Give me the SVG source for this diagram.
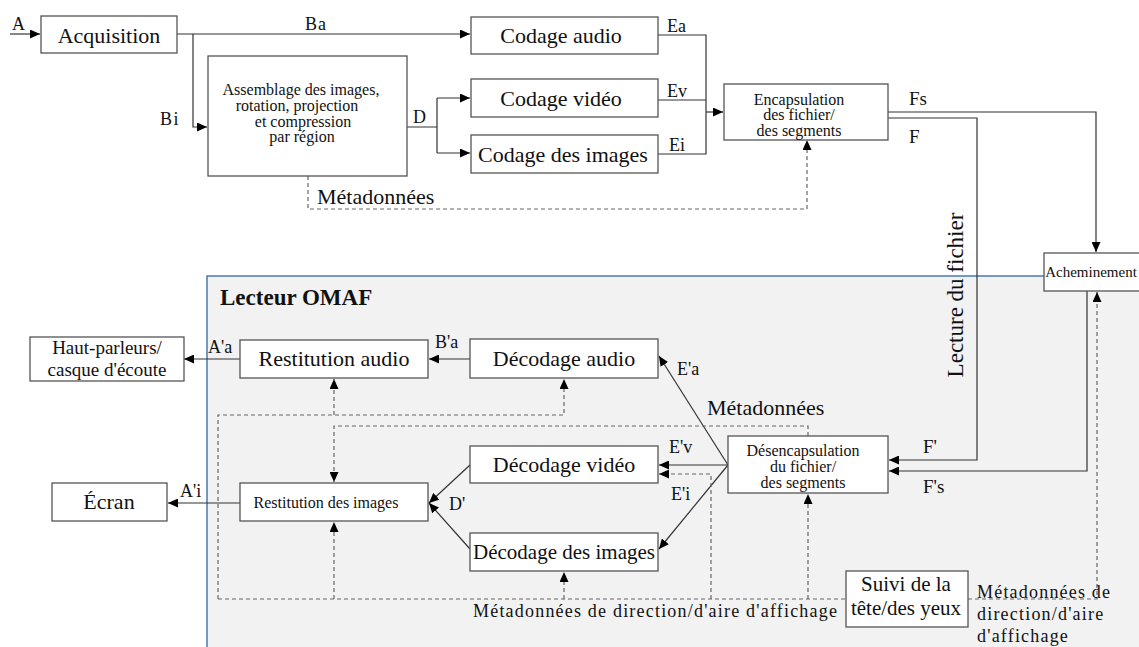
<svg xmlns="http://www.w3.org/2000/svg" width="1139" height="647" viewBox="0 0 1139 647">
<defs>
<marker id="ah" markerUnits="userSpaceOnUse" markerWidth="11" markerHeight="9" refX="10" refY="4.5" orient="auto">
<path d="M0,0 L10,4.5 L0,9 z" fill="#000"/>
</marker>
<style>
.box{fill:#fff;stroke:#555;stroke-width:1.3}
.ln{fill:none;stroke:#333;stroke-width:1.2}
.ds{fill:none;stroke:#666;stroke-width:1.2;stroke-dasharray:4 3}
text{font-family:"Liberation Serif","Times New Roman",serif;fill:#111}
.big{font-size:22px;text-anchor:middle}
.sm{font-size:16px;text-anchor:middle}
.lb{font-size:18px}
.meta{font-size:18px;letter-spacing:1.2px}
</style>
</defs>
<rect width="1139" height="647" fill="#fff"/>
<g id="lecteur">
<rect x="207" y="276" width="940" height="380" fill="#f2f2f2" stroke="#4a7ab0" stroke-width="1.5"/>
<text x="220" y="305" style="font-size:23px;font-weight:bold">Lecteur OMAF</text>
</g>
<g id="connectors">
<path class="ln" d="M10,34 H40" marker-end="url(#ah)"/>
<path class="ln" d="M177,34 H470" marker-end="url(#ah)"/>
<path class="ln" d="M193,34 V127 H207" marker-end="url(#ah)"/>
<path class="ln" d="M407,127 H437 M437,98 V153"/>
<path class="ln" d="M437,98 H470" marker-end="url(#ah)"/>
<path class="ln" d="M437,153 H470" marker-end="url(#ah)"/>
<path class="ln" d="M658,35 H706 V154 H658 M658,100 H706"/>
<path class="ln" d="M706,112 H723" marker-end="url(#ah)"/>
<path class="ln" d="M888,112 H1096 V252" marker-end="url(#ah)"/>
<path class="ln" d="M888,118 H977 V460 H889" marker-end="url(#ah)"/>
<path class="ln" d="M1087,291 V471 H889" marker-end="url(#ah)"/>
<path class="ln" d="M470,359 H429" marker-end="url(#ah)"/>
<path class="ln" d="M240,359 H184" marker-end="url(#ah)"/>
<path class="ln" d="M240,503 H168" marker-end="url(#ah)"/>
<path class="ln" d="M728,465 L659,356" marker-end="url(#ah)"/>
<path class="ln" d="M728,465 H659" marker-end="url(#ah)"/>
<path class="ln" d="M728,465 L659,549" marker-end="url(#ah)"/>
<path class="ln" d="M470,465 L429,503" marker-end="url(#ah)"/>
<path class="ln" d="M470,549 L429,503" marker-end="url(#ah)"/>
<path class="ds" d="M308,176 V209 H807 V140" marker-end="url(#ah)"/>
<path class="ds" d="M218,599 V415 H564 V379" marker-end="url(#ah)"/>
<path class="ds" d="M334,415 V379" marker-end="url(#ah)"/>
<path class="ds" d="M808,436 V426 H334 V482" marker-end="url(#ah)"/>
<path class="ds" d="M218,599 H846"/>
<path class="ds" d="M334,599 V522" marker-end="url(#ah)"/>
<path class="ds" d="M564,599 V572" marker-end="url(#ah)"/>
<path class="ds" d="M711,599 V474 H659" marker-end="url(#ah)"/>
<path class="ds" d="M808,599 V494" marker-end="url(#ah)"/>
<path class="ds" d="M968,599 H1097 V292" marker-end="url(#ah)"/>
</g>
<g id="labels">
<text class="lb" x="12" y="30">A</text>
<text class="lb" x="305" y="30" style="letter-spacing:1px">Ba</text>
<text class="lb" x="160" y="125" style="letter-spacing:1.5px">Bi</text>
<text class="lb" x="413" y="123">D</text>
<text class="lb" x="667" y="32">Ea</text>
<text class="lb" x="667" y="97">Ev</text>
<text class="lb" x="669" y="151">Ei</text>
<text class="lb" x="909" y="105" style="font-size:19px">Fs</text>
<text class="lb" x="909" y="143" style="font-size:19px">F</text>
<text class="lb" x="208" y="353">A'a</text>
<text class="lb" x="435" y="348">B'a</text>
<text class="lb" x="677" y="375">E'a</text>
<text class="lb" x="669" y="453">E'v</text>
<text class="lb" x="671" y="500">E'i</text>
<text class="lb" x="449" y="510">D'</text>
<text class="lb" x="180" y="497">A'i</text>
<text class="lb" x="923" y="453" style="font-size:19px">F'</text>
<text class="lb" x="923" y="493" style="font-size:19px">F's</text>
<text x="317" y="204" style="font-size:22px">Métadonnées</text>
<text x="707" y="415" style="font-size:22px">Métadonnées</text>
<text class="meta" x="473" y="617">Métadonnées de direction/d'aire d'affichage</text>
<text class="meta" x="977" y="598">Métadonnées de</text>
<text class="meta" x="977" y="620">direction/d'aire</text>
<text class="meta" x="977" y="642">d'affichage</text>
<text transform="translate(963,295) rotate(-90)" style="font-size:23px;text-anchor:middle">Lecture du fichier</text>
</g>
<g id="acquisition"><rect class="box" x="41" y="16" width="136" height="37"/><text class="big" x="109" y="43">Acquisition</text></g>
<g id="assemblage"><rect class="box" x="208" y="56" width="199" height="120"/>
<text class="sm" x="301" y="95">Assemblage des images,</text>
<text class="sm" x="297" y="111">rotation, projection</text>
<text class="sm" x="303" y="127">et compression</text>
<text class="sm" x="302" y="142">par région</text></g>
<g id="codage-audio"><rect class="box" x="471" y="17" width="187" height="37"/><text class="big" x="561" y="43">Codage audio</text></g>
<g id="codage-video"><rect class="box" x="471" y="79" width="187" height="38"/><text class="big" x="561" y="106">Codage vidéo</text></g>
<g id="codage-images"><rect class="box" x="471" y="135" width="187" height="38"/><text class="big" x="563" y="162">Codage des images</text></g>
<g id="encapsulation"><rect class="box" x="724" y="84" width="164" height="56"/>
<text class="sm" x="799" y="105">Encapsulation</text>
<text class="sm" x="799" y="120">des fichier/</text>
<text class="sm" x="799" y="136">des segments</text></g>
<g id="acheminement"><rect class="box" x="1044" y="253" width="96" height="38"/><text x="1091" y="277" style="font-size:15px;text-anchor:middle">Acheminement</text></g>
<g id="haut-parleurs"><rect class="box" x="30" y="337" width="154" height="44"/>
<text class="big" x="107" y="354" style="font-size:19px">Haut-parleurs/</text>
<text class="big" x="107" y="376" style="font-size:19px">casque d'écoute</text></g>
<g id="restitution-audio"><rect class="box" x="240" y="340" width="188" height="38"/><text class="big" x="334" y="366">Restitution audio</text></g>
<g id="decodage-audio"><rect class="box" x="470" y="339" width="188" height="39"/><text class="big" x="564" y="366">Décodage audio</text></g>
<g id="ecran"><rect class="box" x="52" y="483" width="115" height="38"/><text class="big" x="109" y="509">Écran</text></g>
<g id="restitution-images"><rect class="box" x="240" y="483" width="188" height="38"/><text class="sm" x="326" y="508">Restitution des images</text></g>
<g id="decodage-video"><rect class="box" x="470" y="446" width="188" height="37"/><text class="big" x="564" y="472">Décodage vidéo</text></g>
<g id="decodage-images"><rect class="box" x="470" y="533" width="188" height="38"/><text class="big" x="564" y="559" style="font-size:21px">Décodage des images</text></g>
<g id="desencapsulation"><rect class="box" x="728" y="436" width="160" height="57"/>
<text class="sm" x="803" y="456">Désencapsulation</text>
<text class="sm" x="803" y="472">du fichier/</text>
<text class="sm" x="803" y="488">des segments</text></g>
<g id="suivi"><rect class="box" x="846" y="571" width="122" height="56"/>
<text class="big" x="906" y="591" style="font-size:21px">Suivi de la</text>
<text class="big" x="906" y="615" style="font-size:21px">tête/des yeux</text></g>
</svg>
